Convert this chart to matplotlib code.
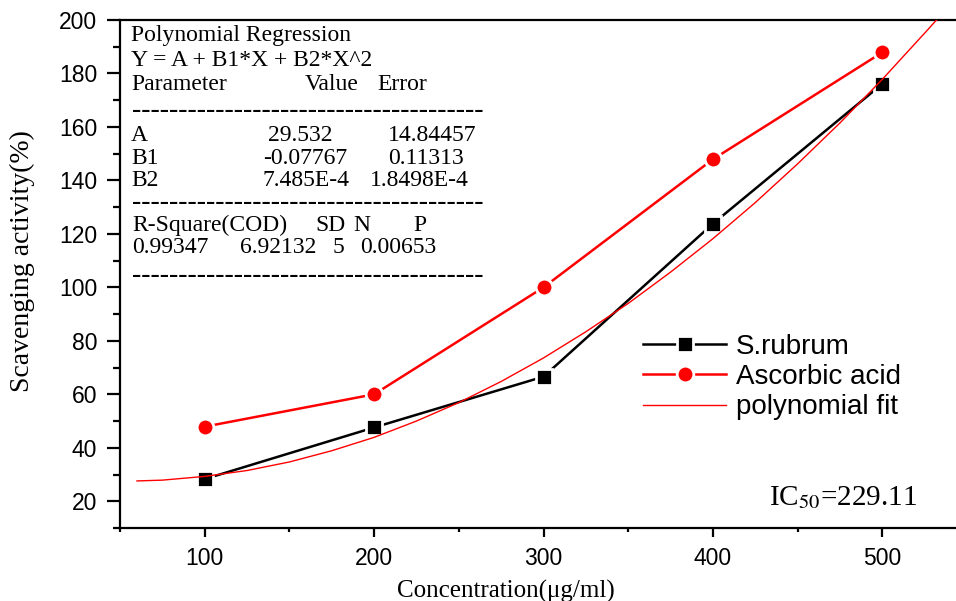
import matplotlib
matplotlib.use('Agg')
import matplotlib.pyplot as plt
from matplotlib.ticker import MultipleLocator

# ---- data ----
conc = [100, 200, 300, 400, 500]
s_rubrum = [28.3, 47.6, 66.6, 123.8, 176.1]
ascorbic = [47.9, 60.0, 100.0, 147.9, 187.9]
fit_x = [60, 75, 100, 125, 150, 175, 200, 225, 250, 275, 300, 325, 350,
         375, 400, 425, 450, 475, 500, 525, 532]
fit_y = [27.6, 27.9, 29.3, 31.5, 34.7, 38.9, 43.9, 50.0, 56.9, 64.8, 73.6,
         83.4, 94.0, 105.7, 118.2, 131.7, 146.2, 161.5, 177.8, 195.1, 200.0]

series_labels = ["S.rubrum", "Ascorbic acid", "polynomial fit"]
x_label = "Concentration(\u03bcg/ml)"
y_label = "Scavenging activity(%)"

reg_title = "Polynomial Regression"
reg_model = "Y = A + B1*X + B2*X^2"
reg_header = ["Parameter", "Value", "Error"]
param_names = ["A", "B1", "B2"]
param_values = ["29.532", "-0.07767", "7.485E-4"]
param_errors = ["14.84457", "0.11313", "1.8498E-4"]
stat_names = ["R-Square(COD)", "SD", "N", "P"]
stat_values = ["0.99347", "6.92132", "5", "0.00653"]
ic50_text = r"IC$_{50}$=229.11"

plt.rcParams['mathtext.fontset'] = 'stix'
SANS = ['Liberation Sans', 'DejaVu Sans']
SERIF = ['Liberation Serif', 'DejaVu Serif']

W, H = 956, 601
fig = plt.figure(figsize=(W / 100, H / 100), dpi=100)
ax = fig.add_axes([120 / W, 1 - 528 / H, 836 / W, 508 / H])

ax.plot(conc, s_rubrum, color='black', lw=1.8, marker='s', ms=11,
        mfc='black', mec='white', mew=2.0, label=series_labels[0], zorder=3)
ax.plot(conc, ascorbic, color='#ff0000', lw=1.8, marker='o', ms=12,
        mfc='#ff0000', mec='white', mew=2.0, label=series_labels[1], zorder=3)
ax.plot(fit_x, fit_y, color='#ff0000', lw=1.0, label=series_labels[2], zorder=4)

ax.set_xlim(50, 543.5)
ax.set_ylim(10, 200)
ax.xaxis.set_major_locator(MultipleLocator(100))
ax.xaxis.set_minor_locator(MultipleLocator(50))
ax.yaxis.set_major_locator(MultipleLocator(20))
ax.yaxis.set_minor_locator(MultipleLocator(10))

for s in ['left', 'bottom', 'top']:
    ax.spines[s].set_linewidth(1.6)
ax.spines['right'].set_visible(False)
ax.tick_params(axis='y', which='major', direction='out', length=9.5, width=1.6, pad=7)
ax.tick_params(axis='y', which='minor', direction='out', length=5, width=1.6)
ax.tick_params(axis='x', which='major', direction='out', length=6.5, width=1.6, pad=7)
ax.tick_params(axis='x', which='minor', direction='out', length=3.2, width=1.6)
for lab in ax.get_xticklabels() + ax.get_yticklabels():
    lab.set_fontfamily(SANS)
    lab.set_fontsize(16.5)

ax.set_xlabel(x_label, family=SERIF, fontsize=18)
ax.xaxis.set_label_coords(0.461, -0.124)
ax.xaxis.label.set_va('center')
ax.set_ylabel(y_label, family=SERIF, fontsize=20)
ax.yaxis.set_label_coords(-0.1165, 0.526)
ax.yaxis.label.set_va('center')

leg = ax.legend(loc='upper left', bbox_to_anchor=(0.6256, 0.382), frameon=False,
                prop={'family': SANS, 'size': 20}, handlelength=3.0,
                handletextpad=0.35, labelspacing=0.15, borderpad=0,
                borderaxespad=0)

# regression report text (pixel positions -> figure fraction)
def put(px, py, s, size=17):
    fig.text(px / W, 1 - py / H, s, family=SERIF, fontsize=size,
             ha='left', va='baseline')

dashes = '-' * 38
put(131, 40.7, reg_title)
put(131, 66, reg_model)
put(131, 89.5, reg_header[0]); put(305, 89.5, reg_header[1]); put(377, 89.5, reg_header[2])
put(132, 117, dashes, size=20)
rows_y = [141, 163.5, 186]
val_x = [268, 263, 263]
err_x = [388, 388, 370]
for i in range(3):
    put(131, rows_y[i], param_names[i])
    put(val_x[i], rows_y[i], param_values[i])
    put(err_x[i], rows_y[i], param_errors[i])
put(132, 209, dashes, size=20)
for s, x in zip(stat_names, [132, 315, 353, 413]):
    put(x, 231, s)
for s, x in zip(stat_values, [132, 240, 333, 360]):
    put(x, 253, s)
put(132, 282, dashes, size=20)

fig.text(769 / W, 1 - 505 / H, ic50_text, family=SERIF, fontsize=21,
         ha='left', va='baseline')

fig.savefig('out.png', dpi=100)
